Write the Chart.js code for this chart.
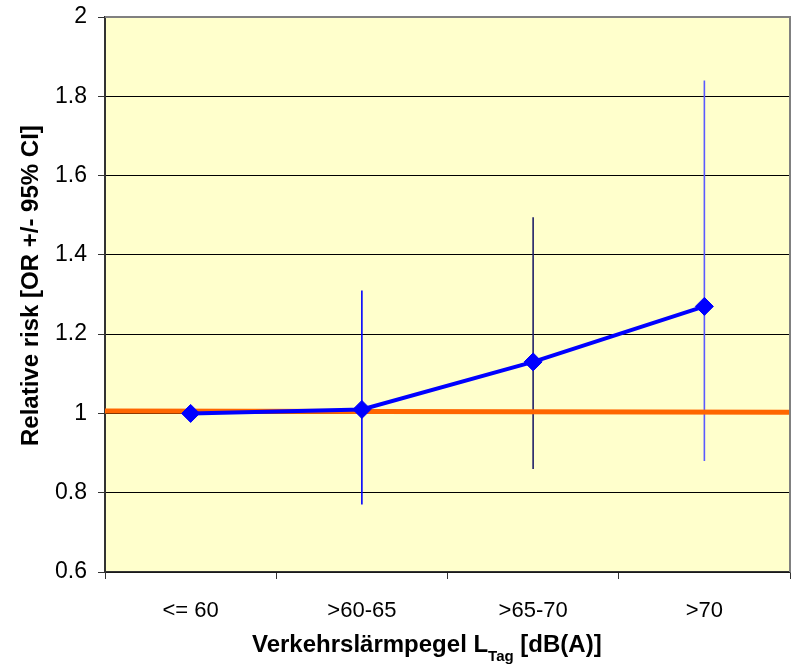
<!DOCTYPE html>
<html>
<head>
<meta charset="utf-8">
<script src="https://cdn.jsdelivr.net/npm/chart.js@4.4.1/dist/chart.umd.min.js"></script>
<style>
  html, body { margin: 0; padding: 0; background: #fff; overflow: hidden; }
  canvas { display: block; }
</style>
</head>
<body>
<canvas id="c" width="792" height="664" style="width:792px;height:664px"></canvas>
<script>
// categories and values
const categories = ['<= 60', '>60-65', '>65-70', '>70'];
const oddsRatio = [1.0, 1.01, 1.13, 1.27];
const ciLow = [null, 0.77, 0.86, 0.88];
const ciHigh = [null, 1.31, 1.495, 1.84];
const ciColors = ['#0000ff', '#0000ff', '#202068', '#5a5aff'];
const refLine = [1.006, 1.003];   // orange reference line, left -> right
const yTicks = [0.6, 0.8, 1, 1.2, 1.4, 1.6, 1.8, 2];

const FONT = '"Liberation Sans", Arial, sans-serif';

const plotBackground = {
    id: 'plotBackground',
    beforeDraw(chart) {
        const { ctx, chartArea: a } = chart;
        ctx.save();
        ctx.fillStyle = '#ffffcc';
        ctx.fillRect(a.left, a.top, a.right - a.left, a.bottom - a.top);
        ctx.restore();
    },
    afterDraw(chart) {
        const { ctx, chartArea: a } = chart;
        ctx.save();
        ctx.strokeStyle = '#808080';
        ctx.lineWidth = 2;
        ctx.beginPath();
        ctx.moveTo(a.left, a.top);
        ctx.lineTo(a.right, a.top);
        ctx.lineTo(a.right, a.bottom);
        ctx.stroke();
        ctx.restore();
    },
};

// vertical CI whiskers, drawn under the lines
const errorBars = {
    id: 'errorBars',
    beforeDatasetsDraw(chart) {
        const { ctx, scales: { x, y } } = chart;
        ctx.save();
        ctx.lineWidth = 1.6;
        categories.forEach((c, i) => {
            if (ciLow[i] == null) return;
            const px = x.getPixelForValue(i);
            ctx.strokeStyle = ciColors[i];
            ctx.beginPath();
            ctx.moveTo(px, y.getPixelForValue(ciLow[i]));
            ctx.lineTo(px, y.getPixelForValue(ciHigh[i]));
            ctx.stroke();
        });
        ctx.restore();
    },
};

// x labels and axis titles (subscript in the x title)
const axisText = {
    id: 'axisText',
    afterDraw(chart) {
        const { ctx, scales: { x } } = chart;
        ctx.save();
        ctx.fillStyle = '#000';
        ctx.textBaseline = 'alphabetic';
        ctx.textAlign = 'center';
        ctx.font = '22px ' + FONT;
        categories.forEach((c, i) => {
            ctx.fillText(c, x.getPixelForValue(i), 617);
        });

        // x title
        ctx.textAlign = 'left';
        let cx = 252;
        ctx.font = 'bold 24px ' + FONT;
        ctx.fillText('Verkehrslärmpegel L', cx, 652);
        cx += ctx.measureText('Verkehrslärmpegel L').width;
        ctx.font = 'bold 15px ' + FONT;
        ctx.fillText('Tag', cx, 661);
        cx += ctx.measureText('Tag').width;
        ctx.font = 'bold 24px ' + FONT;
        ctx.fillText(' [dB(A)]', cx, 652);

        // y title
        ctx.save();
        ctx.translate(31, 446);
        ctx.rotate(-Math.PI / 2);
        ctx.textBaseline = 'middle';
        ctx.font = 'bold 24px ' + FONT;
        ctx.fillText('Relative risk [OR +/- 95% CI]', 0, 0);
        ctx.restore();
        ctx.restore();
    },
};

new Chart(document.getElementById('c'), {
    type: 'line',
    data: {
        labels: categories,
        datasets: [
            {
                label: 'OR',
                data: oddsRatio,
                borderColor: '#0000ff',
                backgroundColor: '#0000ff',
                borderWidth: 4,
                pointStyle: 'rectRot',
                pointRadius: 9,
                pointBorderWidth: 1,
                tension: 0,
                order: 0,
            },
            {
                label: 'ref',
                data: [{ x: 0, y: refLine[0] }, { x: 1, y: refLine[1] }],
                xAxisID: 'xr',
                borderColor: '#ff6600',
                borderWidth: 5,
                pointRadius: 0,
                order: 1,
            },
        ],
    },
    options: {
        responsive: false,
        animation: false,
        devicePixelRatio: 1,
        layout: {
            autoPadding: false,
            padding: { top: 17, right: 2, left: 0, bottom: 0 },
        },
        plugins: {
            legend: { display: false },
            tooltip: { enabled: false },
        },
        scales: {
            x: {
                type: 'category',
                offset: true,
                afterFit: (s) => {
                    s.height = 92;
                    s.paddingLeft = 0;
                    s.paddingRight = 0;
                },
                grid: {
                    offset: true,
                    drawOnChartArea: false,
                    drawTicks: true,
                    tickLength: 7,
                    color: '#333',
                },
                border: { display: true, color: '#333', width: 1.5 },
                ticks: { display: false },
            },
            xr: {
                type: 'linear',
                display: false,
                min: 0,
                max: 1,
            },
            y: {
                min: 0.6,
                max: 2,
                afterFit: (s) => {
                    s.width = 105;
                    s.paddingTop = 0;
                    s.paddingBottom = 0;
                },
                afterBuildTicks: (s) => { s.ticks = yTicks.map(v => ({ value: v })); },
                grid: {
                    color: (c) => (c.tick && c.tick.value === 2 ? 'rgba(0,0,0,0)' : '#000'),
                    tickColor: '#333',
                    tickLength: 7,
                    lineWidth: 1,
                },
                border: { display: true, color: '#333', width: 2 },
                ticks: {
                    color: '#000',
                    padding: 11,
                    font: { family: FONT, size: 23 },
                    callback: (v) => String(v),
                },
            },
        },
    },
    plugins: [plotBackground, errorBars, axisText],
});
</script>
</body>
</html>
